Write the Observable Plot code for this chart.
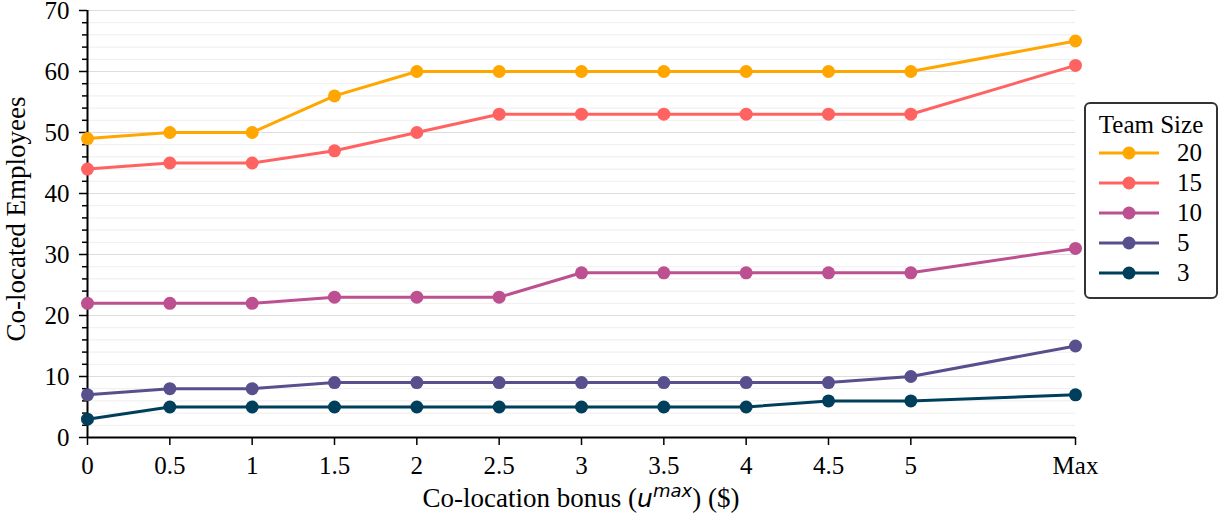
<!DOCTYPE html>
<html><head><meta charset="utf-8">
<script src="https://cdn.jsdelivr.net/npm/d3@7"></script>
<script src="https://cdn.jsdelivr.net/npm/@observablehq/plot@0.6"></script>
<style>
body{margin:0;background:#fff;}
#wrap{position:relative;width:1225px;height:522px;font-family:"Liberation Serif","Times New Roman",serif;}
#wrap svg text{font-family:"Liberation Serif","Times New Roman",serif;}
#legend{position:absolute;left:1084px;top:102px;width:134px;height:197px;border:2px solid #333;border-radius:6px;background:#fff;box-sizing:border-box;font-family:"Liberation Serif","Times New Roman",serif;}
#legend .title{position:absolute;left:0;width:100%;top:7px;text-align:center;font-size:25px;line-height:28px;}
#legend .row{position:absolute;left:0;height:30px;width:100%;}
#legend .row span{position:absolute;left:91px;top:0;font-size:25px;line-height:30px;}
#legend .row svg{position:absolute;left:12px;top:0;}
</style></head><body><div id="wrap"></div>
<script>
// Data
const xLabels = ["0","0.5","1","1.5","2","2.5","3","3.5","4","4.5","5","Max"];
const teamSizes = ["20","15","10","5","3"];
const colors = ["#ffa600","#ff6361","#bc5090","#58508d","#003f5c"];
const size20 = [49,50,50,56,60,60,60,60,60,60,60,65];
const size15 = [44,45,45,47,50,53,53,53,53,53,53,61];
const size10 = [22,22,22,23,23,23,27,27,27,27,27,31];
const size5  = [7,8,8,9,9,9,9,9,9,9,10,15];
const size3  = [3,5,5,5,5,5,5,5,5,6,6,7];
const yMajorTicks = [0,10,20,30,40,50,60,70];

const seriesValues = [size20, size15, size10, size5, size3];
const xPos = l => l === "Max" ? 6 : +l;
const rows = [];
teamSizes.forEach((s, i) => seriesValues[i].forEach((v, j) => rows.push({size: s, x: xPos(xLabels[j]), label: xLabels[j], y: v})));
const xTicks = xLabels.map(xPos);
const yMinor = d3.range(0, 71, 2).filter(v => v % 10 !== 0);

const chart = Plot.plot({
  width: 1225, height: 522,
  marginLeft: 87, marginRight: 150, marginTop: 10, marginBottom: 85,
  style: {fontFamily: '"Liberation Serif","Times New Roman",serif', fontSize: "25px", color: "#000", background: "#fff"},
  x: {domain: [0, 6]},
  y: {domain: [0, 70]},
  color: {domain: teamSizes, range: colors},
  marks: [
    Plot.ruleY(yMinor, {stroke: "#f1f1f1", strokeWidth: 1.2}),
    Plot.ruleY(yMajorTicks.slice(1), {stroke: "#dddddd", strokeWidth: 1.2}),
    Plot.axisY({ticks: yMinor, tickSize: 5, strokeWidth: 1.5, stroke: "#000", label: null, tickFormat: () => ""}),
    Plot.axisY({ticks: yMajorTicks, tickSize: 8, tickPadding: 10, strokeWidth: 1.5, stroke: "#000", label: null, fontSize: 25}),
    Plot.axisX({ticks: xTicks, tickSize: 8, tickPadding: 11, strokeWidth: 1.5, stroke: "#000", label: null, fontSize: 25,
      tickFormat: d => d === 6 ? "Max" : String(d)}),
    Plot.ruleX([0], {stroke: "#000", strokeWidth: 2}),
    Plot.ruleY([0], {stroke: "#000", strokeWidth: 2}),
    Plot.line(rows, {x: "x", y: "y", z: "size", stroke: "size", strokeWidth: 3}),
    Plot.dot(rows, {x: "x", y: "y", fill: "size", r: 6.5, stroke: "none"})
  ]
});
const wrap = document.getElementById("wrap");
wrap.appendChild(chart);

const svg = d3.select(chart);
svg.append("text").attr("transform", "translate(25,219) rotate(-90)")
  .attr("text-anchor", "middle").style("font-size", "27px").text("Co-located Employees");
const xl = svg.append("text").attr("x", 581).attr("y", 507).attr("text-anchor", "middle").style("font-size", "27px");
xl.append("tspan").text("Co-location bonus (");
xl.append("tspan").text("u").style("font-family", '"DejaVu Sans"').style("font-style", "italic").style("font-size", "25px");
xl.append("tspan").text("max").style("font-family", '"DejaVu Sans"').style("font-style", "italic").style("font-size", "18px").attr("dy", "-10");
xl.append("tspan").text(") ($)").attr("dy", "10");

// Legend
const legend = document.createElement("div");
legend.id = "legend";
legend.innerHTML = '<div class="title">Team Size</div>';
teamSizes.forEach((s, i) => {
  const row = document.createElement("div");
  row.className = "row";
  row.style.top = (34 + i * 30) + "px";
  row.innerHTML = `<svg width="62" height="30"><line x1="1" x2="61" y1="15" y2="15" stroke="${colors[i]}" stroke-width="3"/><circle cx="31" cy="15" r="6.5" fill="${colors[i]}"/></svg><span>${s}</span>`;
  legend.appendChild(row);
});
wrap.appendChild(legend);
</script>
</body></html>
